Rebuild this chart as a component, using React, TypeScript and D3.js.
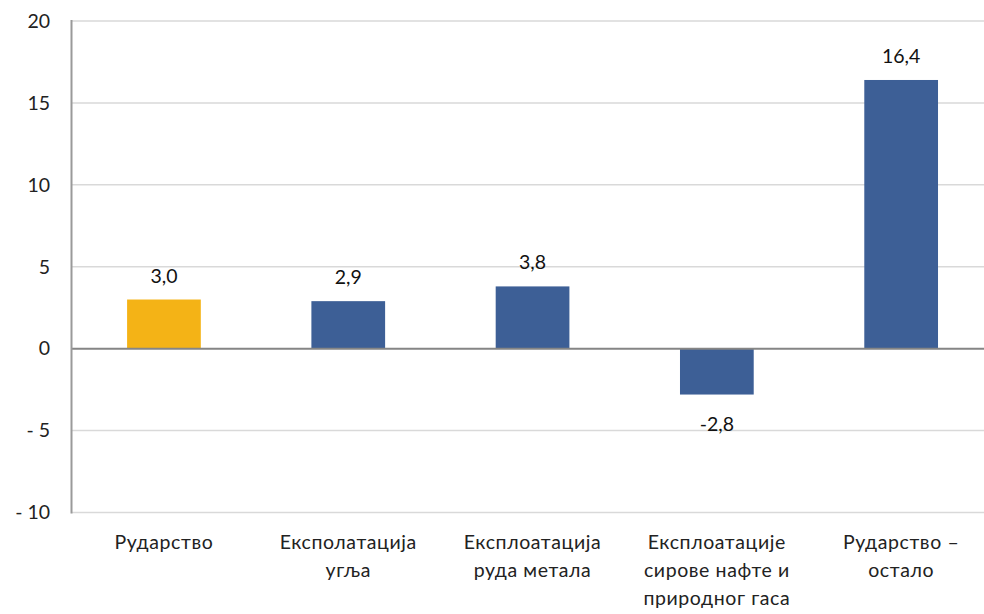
import React from "react";
import * as d3 from "d3";

const categories: string[][] = [
  ["Рударство"],
  ["Експолатација", "угља"],
  ["Експлоатација", "руда метала"],
  ["Експлоатације", "сирове нафте и", "природног гаса"],
  ["Рударство –", "остало"],
];
const values: number[] = [3.0, 2.9, 3.8, -2.8, 16.4];
const barColors: string[] = ["#F4B316", "#3D5F96", "#3D5F96", "#3D5F96", "#3D5F96"];
const yTicks: number[] = [-10, -5, 0, 5, 10, 15, 20];

const W = 984;
const H = 614;
const FONT = "Lato, 'Open Sans', 'Liberation Sans', sans-serif";

export default function App() {
  const x = d3
    .scaleBand<number>()
    .domain(values.map((_, i) => i))
    .range([71.8, 993.3])
    .paddingInner(0.6)
    .paddingOuter(0.3);
  const y = d3.scaleLinear().domain([-10, 20]).range([512.5, 21]);
  const fmtTick = (v: number) => (v < 0 ? `- ${Math.abs(v)}` : `${v}`);
  const fmtVal = (v: number) => v.toFixed(1).replace(".", ",");
  const left = 71.5;

  return (
    <svg
      width={W}
      height={H}
      style={{ position: "absolute", left: 0, top: 0, background: "#fff" }}
      fontFamily={FONT}
    >
      {yTicks
        .filter((t) => t !== 0)
        .map((t) => (
          <line key={t} x1={left} x2={W} y1={y(t)} y2={y(t)} stroke="#d9d9d9" strokeWidth={1.5} />
        ))}
      {values.map((v, i) => (
        <rect
          key={i}
          x={x(i)}
          width={x.bandwidth()}
          y={y(Math.max(0, v))}
          height={Math.abs(y(v) - y(0))}
          fill={barColors[i]}
        />
      ))}
      <line x1={left} x2={W} y1={y(0)} y2={y(0)} stroke="#858585" strokeWidth={2} />
      <line x1={left} x2={left} y1={y(20) - 1} y2={y(-10) + 1} stroke="#9a9a9a" strokeWidth={2} />
      {yTicks.map((t) => (
        <text key={t} x={50} y={y(t)} dy="0.35em" textAnchor="end" fontSize={19.5} fill="#222">
          {fmtTick(t)}
        </text>
      ))}
      {values.map((v, i) => {
        const cx = (x(i) as number) + x.bandwidth() / 2;
        const ly = v >= 0 ? y(v) - 17 : y(v) + 36;
        return (
          <text key={i} x={cx} y={ly} textAnchor="middle" fontSize={19.5} fill="#111">
            {fmtVal(v)}
          </text>
        );
      })}
      {categories.map((lines, i) => {
        const cx = (x(i) as number) + x.bandwidth() / 2;
        return (
          <text key={i} textAnchor="middle" fontSize={19.5} letterSpacing={0.6} fill="#222">
            {lines.map((l, j) => (
              <tspan key={j} x={cx} y={549 + j * 28}>
                {l}
              </tspan>
            ))}
          </text>
        );
      })}
    </svg>
  );
}
